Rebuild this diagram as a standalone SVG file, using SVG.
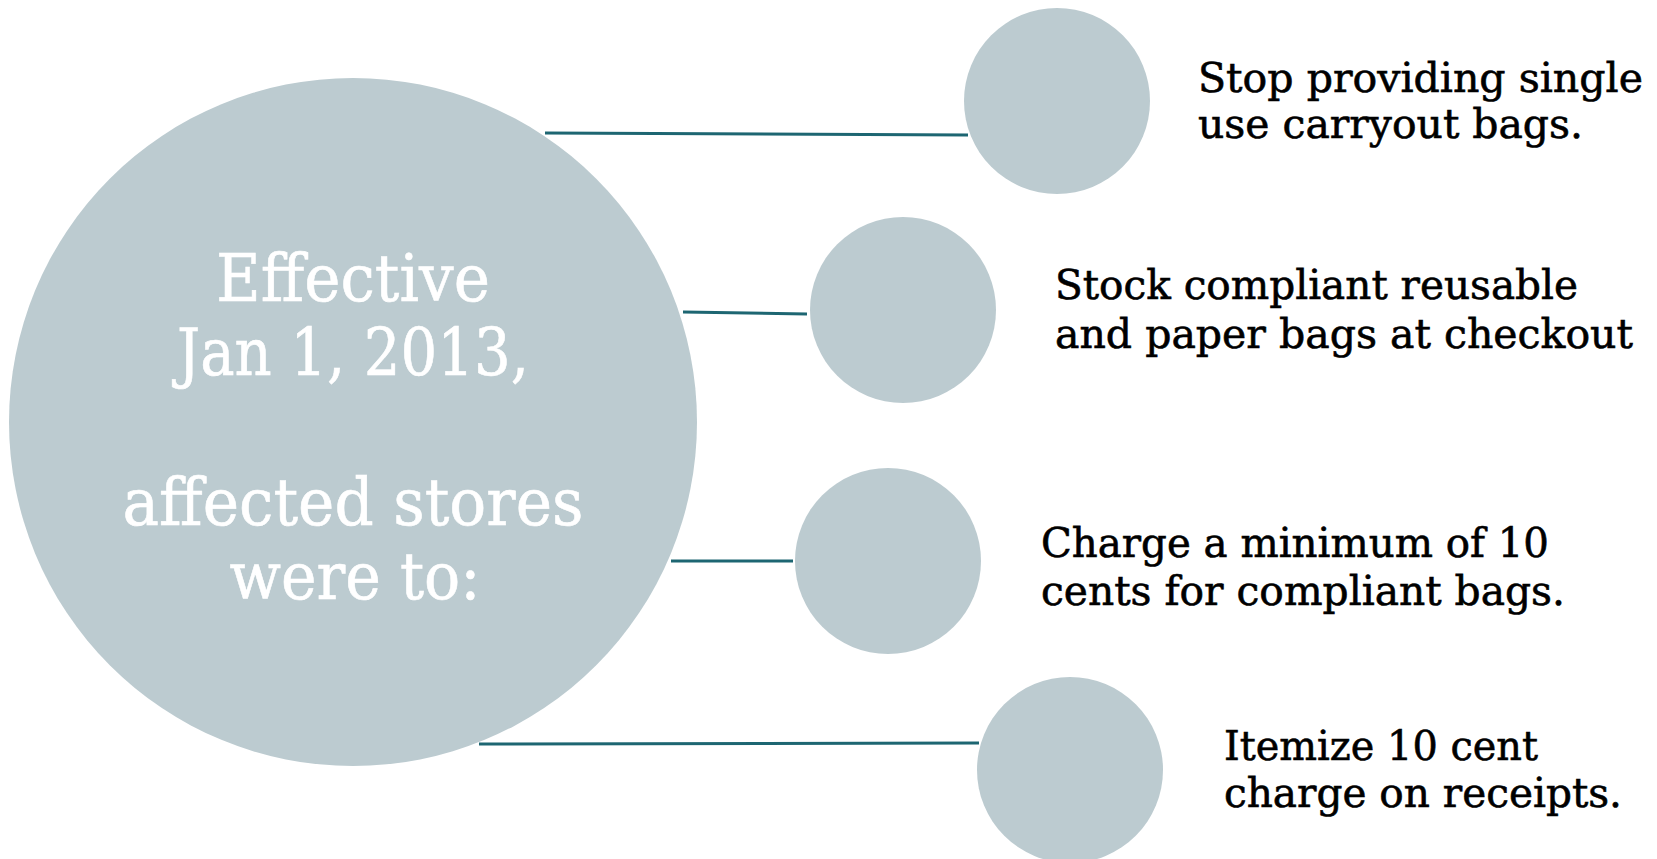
<svg xmlns="http://www.w3.org/2000/svg" width="1657" height="859" viewBox="0 0 1657 859">
<style>
.node{fill:#bccbd0;}
.conn{stroke:#1d6672;stroke-width:3;fill:none;}
.big{font-family:"DejaVu Serif","Liberation Serif",serif;font-size:65px;fill:#ffffff;stroke:#ffffff;stroke-width:0.6;text-anchor:middle;}
.lbl{font-family:"DejaVu Serif","Liberation Serif",serif;font-size:41px;fill:#000000;stroke:#000000;stroke-width:0.6;}
</style>
<rect width="1657" height="859" fill="#ffffff"/>
<g id="connectors">
<line class="conn" x1="545" y1="133" x2="968" y2="135"/>
<line class="conn" x1="683" y1="312" x2="807" y2="314"/>
<line class="conn" x1="671" y1="561" x2="793" y2="561"/>
<line class="conn" x1="479" y1="744" x2="979" y2="743"/>
</g>
<g id="center">
<circle class="node" cx="353" cy="422" r="344"/>
<text class="big" x="353" y="301" textLength="274" lengthAdjust="spacingAndGlyphs">Effective</text>
<text class="big" x="353" y="375" textLength="352" lengthAdjust="spacingAndGlyphs">Jan 1, 2013,</text>
<text class="big" x="353" y="525" textLength="461" lengthAdjust="spacingAndGlyphs">affected stores</text>
<text class="big" x="355" y="599" textLength="251" lengthAdjust="spacingAndGlyphs">were to:</text>
</g>
<g id="node1">
<circle class="node" cx="1057" cy="101" r="93"/>
<text class="lbl" x="1198" y="92" textLength="445" lengthAdjust="spacingAndGlyphs">Stop providing single</text>
<text class="lbl" x="1198" y="138" textLength="385" lengthAdjust="spacingAndGlyphs">use carryout bags.</text>
</g>
<g id="node2">
<circle class="node" cx="903" cy="310" r="93"/>
<text class="lbl" x="1055" y="299" textLength="523" lengthAdjust="spacingAndGlyphs">Stock compliant reusable</text>
<text class="lbl" x="1055" y="348" textLength="578" lengthAdjust="spacingAndGlyphs">and paper bags at checkout</text>
</g>
<g id="node3">
<circle class="node" cx="888" cy="561" r="93"/>
<text class="lbl" x="1041" y="557" textLength="508" lengthAdjust="spacingAndGlyphs">Charge a minimum of 10</text>
<text class="lbl" x="1041" y="605" textLength="524" lengthAdjust="spacingAndGlyphs">cents for compliant bags.</text>
</g>
<g id="node4">
<circle class="node" cx="1070" cy="770" r="93"/>
<text class="lbl" x="1224" y="760" textLength="314" lengthAdjust="spacingAndGlyphs">Itemize 10 cent</text>
<text class="lbl" x="1224" y="807" textLength="398" lengthAdjust="spacingAndGlyphs">charge on receipts.</text>
</g>
</svg>
